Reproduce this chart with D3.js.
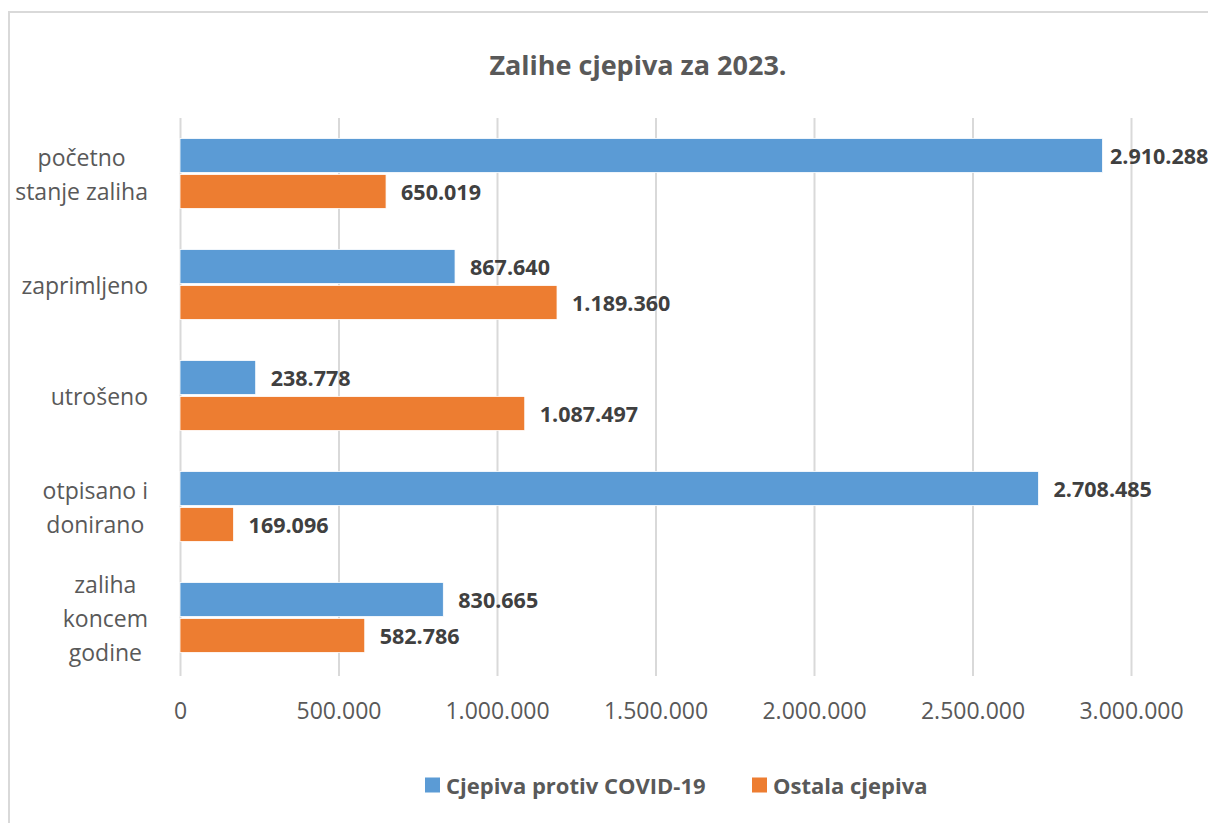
<!DOCTYPE html>
<html>
<head>
<meta charset="utf-8">
<script src="https://cdn.jsdelivr.net/npm/d3@7"></script>
<style>
  html, body { margin: 0; padding: 0; background: #ffffff; }
  svg { display: block; }
</style>
</head>
<body>
<svg id="chart" width="1208" height="823"></svg>
<script>
// ---- Data ----
const title = "Zalihe cjepiva za 2023.";
const categories = [
  ["početno", "stanje zaliha"],
  ["zaprimljeno"],
  ["utrošeno"],
  ["otpisano i", "donirano"],
  ["zaliha", "koncem", "godine"]
];
const seriesNames = ["Cjepiva protiv COVID-19", "Ostala cjepiva"];
const covidValues = [2910288, 867640, 238778, 2708485, 830665];
const otherValues = [650019, 1189360, 1087497, 169096, 582786];
const tickValues = [0, 500000, 1000000, 1500000, 2000000, 2500000, 3000000];
const colors = ["#5b9bd5", "#ed7d31"];

// ---- Setup ----
const svg = d3.select("#chart");
const W = 1208, H = 823;
const FONT = "'Open Sans', 'Noto Sans', sans-serif";
const locale = d3.formatLocale({decimal: ",", thousands: ".", grouping: [3], currency: ["", ""]});
const fmt = locale.format(",d");

svg.append("rect").attr("width", W).attr("height", H).attr("fill", "#fff");
// chart frame
svg.append("rect")
  .attr("x", 9).attr("y", 12).attr("width", W + 20).attr("height", H + 20)
  .attr("fill", "none").attr("stroke", "#d9d9d9").attr("stroke-width", 2);

const plot = {left: 180, right: 1131, top: 118, bottom: 673};

const x = d3.scaleLinear().domain([0, 3000000]).range([plot.left, plot.right]);
const idx = categories.map((d, i) => i);
const y = d3.scaleBand().domain(idx).range([plot.top, plot.bottom])
  .paddingInner(41 / 111).paddingOuter(41 / 222);
const ySub = d3.scaleBand().domain([0, 1]).range([0, y.bandwidth()]).paddingInner(2 / 36);

// title
svg.append("text")
  .attr("x", 638).attr("y", 64)
  .attr("text-anchor", "middle").attr("dominant-baseline", "central")
  .attr("font-family", FONT).attr("font-weight", "bold").attr("font-size", 27)
  .attr("fill", "#595959")
  .text(title);

// gridlines + tick labels via axis
const xAxis = d3.axisBottom(x).tickValues(tickValues).tickFormat(fmt)
  .tickSize(-(plot.bottom + 3 - plot.top)).tickPadding(0);
const gx = svg.append("g").attr("transform", `translate(0,${plot.bottom + 3})`).call(xAxis);
gx.select(".domain").remove();
gx.selectAll(".tick line").attr("stroke", "#d9d9d9").attr("stroke-width", 2);
gx.selectAll(".tick text")
  .attr("y", 35).attr("dy", "0.35em")
  .attr("font-family", FONT).attr("font-size", 23).attr("fill", "#595959");

// bars
const series = [covidValues, otherValues];
series.forEach((vals, s) => {
  const g = svg.append("g");
  g.selectAll("rect").data(vals).join("rect")
    .attr("x", x(0))
    .attr("y", (d, i) => y(i) + ySub(s))
    .attr("width", d => x(d) - x(0))
    .attr("height", ySub.bandwidth())
    .attr("fill", colors[s])
    .attr("stroke", "#ffffff").attr("stroke-width", 0.8);
  g.selectAll("text").data(vals).join("text")
    .attr("x", d => Math.min(x(d) + 15, 1110))
    .attr("y", (d, i) => y(i) + ySub(s) + ySub.bandwidth() / 2)
    .attr("dominant-baseline", "central")
    .attr("font-family", FONT).attr("font-weight", "bold").attr("font-size", 21.5)
    .attr("fill", "#404040")
    .text(d => fmt(d));
});

// category labels (wrapped lines, block right-aligned near axis, lines centered)
const lineH = 34;
const labelRight = 148;
categories.forEach((lines, i) => {
  const cy = y(i) + y.bandwidth() / 2;
  const g = svg.append("g");
  const texts = lines.map((ln, k) => g.append("text")
    .attr("y", cy + (k - (lines.length - 1) / 2) * lineH)
    .attr("dominant-baseline", "central")
    .attr("text-anchor", "middle")
    .attr("font-family", FONT).attr("font-size", 23).attr("fill", "#595959")
    .text(ln));
  const maxW = d3.max(texts, t => t.node().getComputedTextLength());
  texts.forEach(t => t.attr("x", labelRight - maxW / 2));
});

// legend
const legendY = 785;
const legendItems = [{x: 425, name: seriesNames[0], c: colors[0]}, {x: 752, name: seriesNames[1], c: colors[1]}];
legendItems.forEach(it => {
  svg.append("rect").attr("x", it.x).attr("y", legendY - 7.5).attr("width", 15).attr("height", 15).attr("fill", it.c);
  svg.append("text")
    .attr("x", it.x + 21).attr("y", legendY)
    .attr("dominant-baseline", "central")
    .attr("font-family", FONT).attr("font-weight", "bold").attr("font-size", 22)
    .attr("fill", "#595959")
    .text(it.name);
});
</script>
</body>
</html>
